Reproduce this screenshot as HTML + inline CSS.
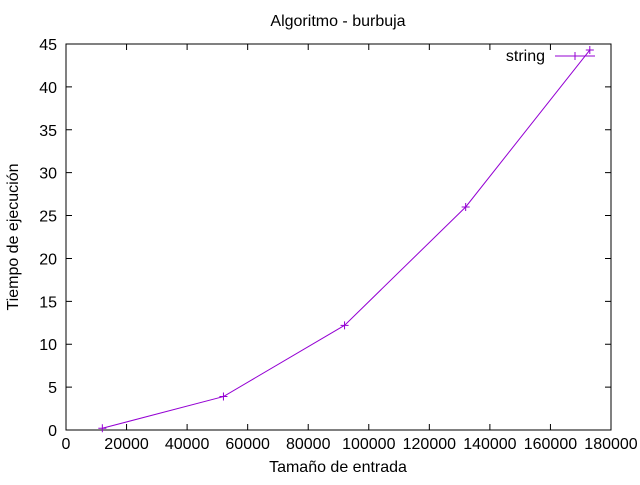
<!DOCTYPE html>
<html><head><meta charset="utf-8"><style>
body{margin:0;background:#fff}
text{font-family:"Liberation Sans",sans-serif;font-size:16px;fill:#000}
</style></head><body>
<svg id="chart" width="640" height="480" xmlns="http://www.w3.org/2000/svg">
<rect width="640" height="480" fill="#fff"/>
<text x="338" y="26" text-anchor="middle">Algoritmo - burbuja</text>
<text x="338" y="472" text-anchor="middle">Tamaño de entrada</text>
<text transform="translate(18,237) rotate(-90)" text-anchor="middle">Tiempo de ejecución</text>
<g id="axes"></g>
<g id="series"></g>
<g>
<text x="545" y="61" text-anchor="end">string</text>
<line x1="555" y1="56" x2="595" y2="56" stroke="#9400d3" stroke-width="1"/>
<path d="M571,56h8M575,52v8" stroke="#9400d3"/>
</g>
</svg>
<script>
const xValues=[12000,52000,92000,132000,173000];
const yValues=[0.2,3.9,12.2,26,44.3];
const xTicks=[0,20000,40000,60000,80000,100000,120000,140000,160000,180000];
const yTicks=[0,5,10,15,20,25,30,35,40,45];
const L=66,R=611,T=44,B=430;
const sx=v=>L+(v-0)/180000*(R-L);
const sy=v=>B-(v-0)/45*(B-T);
const NS="http://www.w3.org/2000/svg";
const axes=document.getElementById('axes');
const ser=document.getElementById('series');
function mk(tag,attrs,parent){const e=document.createElementNS(NS,tag);for(const k in attrs)e.setAttribute(k,attrs[k]);parent.appendChild(e);return e;}
const frame=mk('rect',{x:L,y:T,width:R-L,height:B-T,fill:'none',stroke:'#000','stroke-width':1},axes);


xTicks.forEach(t=>{const x=sx(t);
const tk=mk('path',{d:`M${x},${B}v-6M${x},${T}v6`,stroke:'#000'},axes);


const lb=mk('text',{x:x,y:B+19,'text-anchor':'middle'},axes);lb.textContent=t;

});
yTicks.forEach(t=>{const y=sy(t);
const tk=mk('path',{d:`M${L},${y}h6M${R},${y}h-6`,stroke:'#000'},axes);


const lb=mk('text',{x:L-9,y:y+6,'text-anchor':'end'},axes);lb.textContent=t;

});
const pts=xValues.map((v,i)=>[sx(v),sy(yValues[i])]);
const line=mk('polyline',{points:pts.map(p=>p.join(',')).join(' '),fill:'none',stroke:'#9400d3','stroke-width':1},ser);


pts.forEach(p=>{const m=mk('path',{d:`M${p[0]-4},${p[1]}h8M${p[0]},${p[1]-4}v8`,stroke:'#9400d3'},ser);

});
</script>
</body></html>
